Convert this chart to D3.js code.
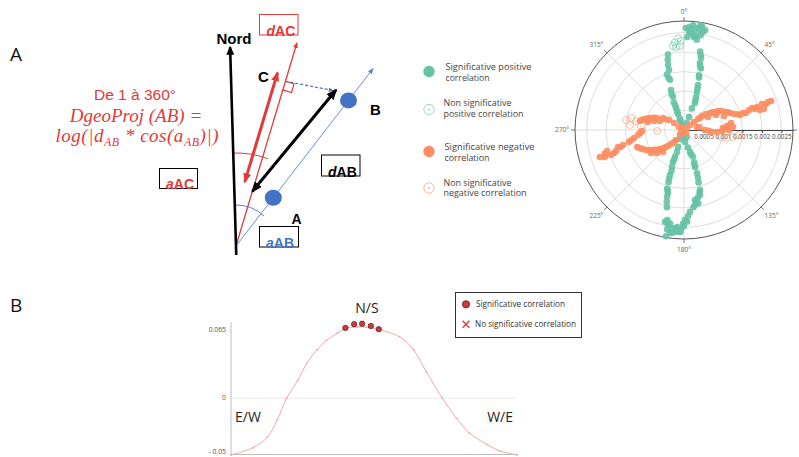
<!DOCTYPE html>
<html>
<head>
<meta charset="utf-8">
<script src="https://cdn.jsdelivr.net/npm/d3@7"></script>
<style>
  html, body { margin: 0; padding: 0; background: #fff; }
  svg { display: block; }
</style>
</head>
<body>
<svg id="fig" width="799" height="457"></svg>
<script>
// ---------------------------------------------------------------
// Polar panel: azimuth (degrees, clockwise from north) and strength
// ---------------------------------------------------------------
const posSigTheta = [1, 3, 6, 8, 10, 11, 10, 7, 4, 2, 8, 9, 5, 9, 12, 3, 6,
  11.6, 13.3, 13.4, 15.3, 15.3, 17.3, 18.9, 20, 22, 20, 21, 12.5, 14, 16, 18, 21,
  348, 346.2, 346, 342.8, 344.4, 342, 341.6, 339.7, 340, 339.4, 340, 341.6, 347, 343.5, 341, 340.5, 340,
  175, 167.5, 164.7, 161.6, 162.6, 163.4, 163.2, 163.7, 165, 166.2, 168.4, 170.5, 171, 175.8, 177.3, 179.4, 180.6,
  164, 163, 164.5, 166, 169, 173, 172,
  199.4, 197.6, 198.4, 199, 198, 197.3, 197, 196, 194.3, 194.2, 192.5, 191.7, 189.6, 189.6, 187.7, 187, 185, 183.4, 181.7, 180, 178, 189.6,
  198.5, 197, 196.5, 195, 193.5, 190.5, 186, 184, 182, 188.5,
  338, 160, 200, 20];
const posSigR = [0.00262, 0.00265, 0.00257, 0.00265, 0.00270, 0.00257, 0.00247, 0.00244, 0.00249, 0.00239, 0.00234, 0.00272, 0.00270, 0.00260, 0.00262, 0.00252, 0.00240,
  0.00206, 0.00190, 0.00177, 0.00164, 0.00146, 0.00121, 0.00103, 0.00090, 0.00075, 0.00059, 0.00036, 0.00198, 0.00170, 0.00140, 0.00112, 0.00082,
  0.00198, 0.00172, 0.00159, 0.00149, 0.00134, 0.00108, 0.00090, 0.00075, 0.00059, 0.00044, 0.00031, 0.00015, 0.00185, 0.00140, 0.00098, 0.00066, 0.00050,
  0.00031, 0.00046, 0.00059, 0.00072, 0.00087, 0.00100, 0.00116, 0.00128, 0.00159, 0.00172, 0.00177, 0.00188, 0.00182, 0.00211, 0.00221, 0.00231, 0.00241,
  0.00065, 0.00094, 0.00140, 0.00165, 0.00192, 0.00200, 0.00196,
  0.00046, 0.00059, 0.00072, 0.00087, 0.00100, 0.00121, 0.00131, 0.00157, 0.00167, 0.00177, 0.00203, 0.00241, 0.00247, 0.00259, 0.00267, 0.00254, 0.00257, 0.00262, 0.00254, 0.00247, 0.00236, 0.00277,
  0.00080, 0.00110, 0.00140, 0.00162, 0.00190, 0.00235, 0.00265, 0.00250, 0.00262, 0.00243,
  0.00025, 0.00020, 0.00025, 0.00020];

const posNsTheta = [354, 356.3, 358, 354.5, 357.3, 352.5];
const posNsR = [0.00226, 0.00236, 0.00229, 0.00213, 0.00216, 0.00218];

const negSigTheta = [50.2, 51.3, 51.8, 52.1, 54, 56.8, 59, 60.8, 63.4, 66.8, 69.7, 72.3, 61.6, 64.9, 70.7,
  75, 74.7, 72.1, 72.5, 71.6, 75.3, 71.6, 71.6, 75.3,
  53, 58, 62, 68, 73.5, 74, 73, 73.5, 72.5,
  77, 90, 94, 93.5, 87, 84.7, 81.5, 86.5, 90, 91.5, 80, 92, 89, 84,
  301, 305, 303.7, 299.7, 294, 290, 285.8, 281.6, 290.6, 282.5, 286.7, 300, 292, 288, 284,
  268.6, 263.8, 260.9, 257.7, 256.2, 255.6, 251.8, 254.7, 251.1, 252.2, 251.1, 266, 259, 255, 253, 253.5,
  218.7, 218.7, 222.9, 226.6, 231.6, 236.3, 240.9, 245.7, 250.1, 223.7, 229.6, 235.1,
  220, 225, 229, 233.5, 238.5, 243, 248,
  56, 236, 146, 326];
const negSigR = [0.00020, 0.00033, 0.00046, 0.00059, 0.00070, 0.00080, 0.00090, 0.00100, 0.00109, 0.00117, 0.00126, 0.00135, 0.00070, 0.00091, 0.00109,
  0.00149, 0.00165, 0.00184, 0.00197, 0.00211, 0.00212, 0.00227, 0.00236, 0.00202,
  0.00052, 0.00085, 0.00098, 0.00122, 0.00143, 0.00157, 0.00175, 0.00190, 0.00220,
  0.00034, 0.00054, 0.00072, 0.00085, 0.00100, 0.00111, 0.00122, 0.00126, 0.00116, 0.00098, 0.00040, 0.00064, 0.00108, 0.00118,
  0.00015, 0.00031, 0.00046, 0.00062, 0.00076, 0.00090, 0.00104, 0.00115, 0.00066, 0.00095, 0.00080, 0.00055, 0.00083, 0.00097, 0.00110,
  0.00108, 0.00119, 0.00130, 0.00145, 0.00161, 0.00175, 0.00189, 0.00205, 0.00215, 0.00227, 0.00198, 0.00113, 0.00138, 0.00168, 0.00182, 0.00212,
  0.00016, 0.00033, 0.00049, 0.00064, 0.00079, 0.00092, 0.00106, 0.00118, 0.00128, 0.00078, 0.00091, 0.00103,
  0.00041, 0.00057, 0.00071, 0.00086, 0.00099, 0.00112, 0.00124,
  0.00009, 0.00009, 0.00009, 0.00009];

const negNsTheta = [100.7, 100.5, 98.1, 95.2, 279.8, 282.8, 280.6, 275.3, 275.3, 267.9];
const negNsR = [0.00097, 0.00112, 0.00127, 0.00142, 0.00151, 0.00139, 0.00125, 0.00139, 0.00111, 0.00069];

const radialMax = 0.0028;
const radialTicks = [0, 0.0005, 0.001, 0.0015, 0.002, 0.0025];
const radialTickLabels = ["0", "0.0005", "0.001", "0.0015", "0.002", "0.0025"];
const angularTicks = [0, 45, 90, 135, 180, 225, 270, 315];
const angularTickLabels = ["0°", "45°", "90°", "135°", "180°", "225°", "270°", "315°"];

const polarLegendLabels = [
  ["Significative positive", "correlation"],
  ["Non significative", "positive correlation"],
  ["Significative negative", "correlation"],
  ["Non significative", "negative correlation"]
];

// ---------------------------------------------------------------
// Panel B: correlation as a function of orientation
// ---------------------------------------------------------------
const orientAngle = [-90, -76, -67, -61, -55, -48, -42, -36, -30, -23, -17, -10, -6, 4, 16, 25, 33, 43, 52, 60, 71, 79, 90];
const orientValue = [-0.054, -0.047, -0.037, -0.021, 0, 0.017, 0.034, 0.046, 0.055, 0.062, 0.067, 0.068, 0.068, 0.065, 0.0586, 0.046, 0.025, 0, -0.019, -0.033, -0.044, -0.050, -0.054];
const sigAngle = [-18, -12.5, -7.5, -2, 3];
const sigValue = [0.067, 0.0705, 0.071, 0.0688, 0.0658];
const yTicks = [-0.05, 0, 0.065];
const yTickLabels = ["- 0.05", "0", "0.065"];
const orientLabels = ["E/W", "N/S", "W/E"];
const legendBLabels = ["Significative correlation", "No significative correlation"];

// ---------------------------------------------------------------
const svg = d3.select("#fig");
const SANS = "'Open Sans', 'Liberation Sans', sans-serif";
const ARIAL = "'Liberation Sans', Arial, sans-serif";
const RED = "#e2393a";
const BLUE = "#4472c4";
const GREEN = "rgb(102,194,165)";
const ORANGE = "rgb(252,141,98)";

// panel letters
svg.append("text").attr("x", 10).attr("y", 61).text("A")
  .attr("font-family", SANS).attr("font-size", 19).attr("fill", "#111");
svg.append("text").attr("x", 10).attr("y", 312).text("B")
  .attr("font-family", SANS).attr("font-size", 19).attr("fill", "#111");

// ================= schematic of the projection =================
const defs = svg.append("defs");
function arrowMarker(id, color, len, wid) {
  defs.append("marker").attr("id", id)
    .attr("viewBox", `0 0 ${len} ${wid}`)
    .attr("refX", len * 0.85).attr("refY", wid / 2)
    .attr("markerUnits", "userSpaceOnUse")
    .attr("markerWidth", len).attr("markerHeight", wid)
    .attr("orient", "auto-start-reverse")
    .append("path").attr("d", `M0,0 L${len},${wid / 2} L0,${wid} Z`).attr("fill", color);
}
arrowMarker("hNord", "#000", 9, 8);
arrowMarker("hBlack", "#000", 11, 9);
arrowMarker("hRedBig", RED, 10, 8);
arrowMarker("hRed", RED, 6, 5);
arrowMarker("hBlue", "#5b84cf", 6, 5);
arrowMarker("hDash", "#4a6fb5", 5, 4);

const sketch = {
  origin: [236, 246],
  northDeg: -1.7, northLen: 199, northTail: 9,
  acDeg: 16.7, acLen: 212,
  abDeg: 37.7, abLen: 224,
  distA: 61, distB: 184,
  blackFrom: 57, blackTip: [336, 90],
  projFrom: 64, projTo: 178, projOffset: 10,
  foot: 172, square: 9
};
const rad = d => d * Math.PI / 180;
const unit = deg => [Math.sin(rad(deg)), -Math.cos(rad(deg))];
const along = (deg, len) => [sketch.origin[0] + unit(deg)[0] * len, sketch.origin[1] + unit(deg)[1] * len];
const gA = svg.append("g");
const seg = (p, q) => gA.append("line").attr("x1", p[0]).attr("y1", p[1]).attr("x2", q[0]).attr("y2", q[1]);

// angle arcs
function arcPath(r, d0, d1) {
  const p = d3.path();
  p.arc(sketch.origin[0], sketch.origin[1], r, rad(d0 - 90), rad(d1 - 90));
  return p.toString();
}
gA.append("path").attr("d", arcPath(93, sketch.northDeg, 20)).attr("fill", "none").attr("stroke", RED).attr("stroke-width", 1);
gA.append("path").attr("d", arcPath(41, sketch.northDeg, 43)).attr("fill", "none").attr("stroke", "#5b84cf").attr("stroke-width", 1);

// AB direction (blue)
seg(sketch.origin, along(sketch.abDeg, sketch.abLen)).attr("stroke", "#6b8fd4").attr("stroke-width", 1).attr("marker-end", "url(#hBlue)");
// AC direction (red)
seg(sketch.origin, along(sketch.acDeg, sketch.acLen)).attr("stroke", RED).attr("stroke-width", 1.3).attr("marker-end", "url(#hRed)");
// north
seg(along(sketch.northDeg, -sketch.northTail), along(sketch.northDeg, sketch.northLen))
  .attr("stroke", "#000").attr("stroke-width", 2.6).attr("marker-end", "url(#hNord)");

// right angle at the projection foot
const F = along(sketch.acDeg, sketch.foot);
const dn = unit(sketch.acDeg + 180), pr = unit(sketch.acDeg + 90), s = sketch.square;
gA.append("path").attr("d",
  `M${F[0]},${F[1]} L${F[0] + pr[0] * s},${F[1] + pr[1] * s} L${F[0] + pr[0] * s + dn[0] * s},${F[1] + pr[1] * s + dn[1] * s} L${F[0] + dn[0] * s},${F[1] + dn[1] * s}`)
  .attr("fill", "none").attr("stroke", RED).attr("stroke-width", 1.2);
// dashed projection line
seg(F, [sketch.blackTip[0] - 3, sketch.blackTip[1] + 0.5]).attr("stroke", "#4a6fb5").attr("stroke-width", 1.2)
  .attr("stroke-dasharray", "3,2").attr("marker-end", "url(#hDash)");

// projected distance (thick red)
const lft = unit(sketch.acDeg - 90);
const p0 = along(sketch.acDeg, sketch.projFrom), p1 = along(sketch.acDeg, sketch.projTo);
seg([p0[0] + lft[0] * sketch.projOffset, p0[1] + lft[1] * sketch.projOffset],
    [p1[0] + lft[0] * sketch.projOffset, p1[1] + lft[1] * sketch.projOffset])
  .attr("stroke", RED).attr("stroke-width", 3).attr("marker-start", "url(#hRedBig)").attr("marker-end", "url(#hRedBig)");
// distance AB (black)
seg(along(sketch.acDeg, sketch.blackFrom), sketch.blackTip)
  .attr("stroke", "#000").attr("stroke-width", 3).attr("marker-start", "url(#hBlack)").attr("marker-end", "url(#hBlack)");

// sites A and B
[sketch.distA, sketch.distB].forEach(d => {
  const p = along(sketch.abDeg, d);
  gA.append("ellipse").attr("cx", p[0]).attr("cy", p[1]).attr("rx", 8.5).attr("ry", 8).attr("fill", BLUE);
});

// labels
const bold = (x, y, t, size, color) => gA.append("text").attr("x", x).attr("y", y).text(t)
  .attr("font-family", ARIAL).attr("font-weight", "bold").attr("font-size", size).attr("fill", color || "#000");
bold(216.5, 44, "Nord", 15);
bold(258, 82, "C", 15);
bold(370, 115, "B", 15);
bold(291.5, 224, "A", 14);

function boxLabel(bx, by, bw, bh, boxColor, tx, ty, ital, rest, color) {
  gA.append("rect").attr("x", bx).attr("y", by).attr("width", bw).attr("height", bh)
    .attr("fill", "none").attr("stroke", boxColor).attr("stroke-width", 1);
  const t = gA.append("text").attr("x", tx).attr("y", ty).attr("font-family", ARIAL)
    .attr("font-weight", "bold").attr("font-size", 14).attr("fill", color);
  t.append("tspan").attr("font-style", "italic").text(ital);
  t.append("tspan").text(rest);
}
boxLabel(259.5, 14.5, 38.5, 20.5, RED, 266.5, 35.5, "d", "AC", RED);
boxLabel(321.5, 155, 38.5, 21, "#000", 328, 176.5, "d", "AB", "#000");
boxLabel(159.5, 168.5, 38, 20, "#000", 166, 188.5, "a", "AC", RED);
boxLabel(259.5, 226.5, 39, 20.5, "#000", 266, 247.5, "a", "AB", BLUE);

// formula
gA.append("text").attr("x", 135).attr("y", 100).attr("text-anchor", "middle")
  .attr("font-family", ARIAL).attr("font-size", 15.5).attr("fill", RED).text("De 1 à 360°");
const MATH = "'Liberation Serif', 'DejaVu Serif', serif";
gA.append("text").attr("x", 136).attr("y", 121.5).attr("text-anchor", "middle")
  .attr("font-family", MATH).attr("font-style", "italic").attr("font-size", 19).attr("fill", RED)
  .text("DgeoProj (AB) =");
const f = gA.append("text").attr("x", 137).attr("y", 141.5).attr("text-anchor", "middle")
  .attr("font-family", MATH).attr("font-style", "italic").attr("font-size", 19).attr("fill", RED)
  .attr("textLength", 163).attr("lengthAdjust", "spacing");
f.append("tspan").text("log(|d");
f.append("tspan").attr("font-size", 12).attr("dy", 4).text("AB");
f.append("tspan").attr("dy", -4).text(" * cos(a");
f.append("tspan").attr("font-size", 12).attr("dy", 4).text("AB");
f.append("tspan").attr("dy", -4).text(")|)");

// ================= polar legend =================
const gL = svg.append("g");
const legendStyles = [
  { color: GREEN, open: false }, { color: GREEN, open: true },
  { color: ORANGE, open: false }, { color: ORANGE, open: true }
];
const legendRows = [
  { cy: 71.5, x: 445.5, base: [69.5, 80.5], w: [86, 44] },
  { cy: 109.5, x: 443.5, base: [105.5, 116.5], w: [68, 80] },
  { cy: 151.5, x: 444.5, base: [149.5, 160.5], w: [90, 45] },
  { cy: 188, x: 443.5, base: [185.5, 196], w: [68, 83] }
];
legendRows.forEach((row, i) => {
  const st = legendStyles[i];
  if (st.open) {
    gL.append("circle").attr("cx", 429).attr("cy", row.cy).attr("r", 5.2)
      .attr("fill", "none").attr("stroke", st.color).attr("stroke-width", 0.8).attr("opacity", 0.8);
    gL.append("circle").attr("cx", 429).attr("cy", row.cy).attr("r", 0.8).attr("fill", st.color);
  } else {
    gL.append("circle").attr("cx", 429).attr("cy", row.cy).attr("r", 5.7).attr("fill", st.color);
  }
  polarLegendLabels[i].forEach((line, j) => {
    gL.append("text").attr("x", row.x).attr("y", row.base[j]).text(line)
      .attr("font-family", SANS).attr("font-size", 8.6).attr("fill", "#444")
      .attr("textLength", row.w[j]).attr("lengthAdjust", "spacingAndGlyphs");
  });
});

// ================= polar scatter =================
const cx = 684, cy = 130, outerR = 109;
const rScale = d3.scaleLinear().domain([0, radialMax]).range([0, outerR]);
const gP = svg.append("g").attr("transform", `translate(${cx},${cy})`);
const pos = (theta, r) => d3.pointRadial(rad(theta), rScale(r));

radialTicks.slice(1).forEach(t => {
  gP.append("circle").attr("r", rScale(t)).attr("fill", "none").attr("stroke", "#d4d4d4").attr("stroke-width", 0.8);
});
angularTicks.forEach(a => {
  const p = pos(a, radialMax);
  gP.append("line").attr("x1", 0).attr("y1", 0).attr("x2", p[0]).attr("y2", p[1])
    .attr("stroke", "#d4d4d4").attr("stroke-width", 0.8);
});
gP.append("circle").attr("r", outerR).attr("fill", "none").attr("stroke", "#555").attr("stroke-width", 1);

// angular ticks and labels (the 90° label runs past the right edge)
angularTicks.forEach((a, i) => {
  const p0 = d3.pointRadial(rad(a), outerR), p1 = d3.pointRadial(rad(a), outerR + 4);
  gP.append("line").attr("x1", p0[0]).attr("y1", p0[1]).attr("x2", p1[0]).attr("y2", p1[1])
    .attr("stroke", "#555").attr("stroke-width", 0.8);
  const q = d3.pointRadial(rad(a), outerR + 5);
  const sx = Math.sin(rad(a)), cyy = Math.cos(rad(a));
  const t = gP.append("text").text(angularTickLabels[i])
    .attr("font-family", SANS).attr("font-size", 6.5).attr("fill", "#666");
  let x = q[0], y = q[1];
  t.attr("text-anchor", sx > 0.1 ? "start" : sx < -0.1 ? "end" : "middle");
  if (cyy > 0.1) { y -= 2; }
  else if (cyy < -0.1) { y += 2; t.attr("dominant-baseline", "hanging"); }
  else { t.attr("dominant-baseline", "middle"); x += sx > 0 ? 1 : -1; }
  t.attr("x", x).attr("y", y);
});

// radial axis along 90°
const radialAxis = d3.axisBottom(rScale).tickValues(radialTicks)
  .tickFormat((d, i) => radialTickLabels[i]).tickSize(3).tickSizeOuter(0);
const gR = gP.append("g").call(radialAxis);
gR.select(".domain").attr("stroke", "#444").attr("stroke-width", 1);
gR.selectAll(".tick line").attr("stroke", "#444");
gR.selectAll(".tick text").attr("font-family", SANS).attr("font-size", 6.3).attr("fill", "#444").attr("dy", "0.5em");

function scatter(thetas, rs, color, open) {
  const data = thetas.map((t, i) => pos(t, rs[i]));
  const g = gP.append("g");
  if (open) {
    g.selectAll("circle.o").data(data).join("circle").attr("class", "o")
      .attr("cx", d => d[0]).attr("cy", d => d[1]).attr("r", 3.5)
      .attr("fill", "none").attr("stroke", color).attr("stroke-width", 0.7).attr("opacity", 0.85);
    g.selectAll("circle.c").data(data).join("circle").attr("class", "c")
      .attr("cx", d => d[0]).attr("cy", d => d[1]).attr("r", 0.6).attr("fill", color);
  } else {
    g.selectAll("circle").data(data).join("circle")
      .attr("cx", d => d[0]).attr("cy", d => d[1]).attr("r", 3.3)
      .attr("fill", color).attr("opacity", 0.9);
  }
}
scatter(posNsTheta, posNsR, GREEN, true);
scatter(posSigTheta, posSigR, GREEN, false);
scatter(negNsTheta, negNsR, ORANGE, true);
scatter(negSigTheta, negSigR, ORANGE, false);

// ================= panel B =================
const xB = d3.scaleLinear().domain([-90, 90]).range([231, 517]);
const yB = d3.scaleLinear().domain([-0.05, 0.065]).range([450.8, 330]);
const gB = svg.append("g");
const yTop = 0.0725, yBottom = -0.0535;

gB.append("line").attr("x1", xB(-90)).attr("x2", xB(90)).attr("y1", yB(0)).attr("y2", yB(0))
  .attr("stroke", "#ececec").attr("stroke-width", 1);
gB.append("line").attr("x1", xB(-90)).attr("x2", xB(90)).attr("y1", yB(yBottom)).attr("y2", yB(yBottom))
  .attr("stroke", "#bdbdbd").attr("stroke-width", 1);
gB.append("line").attr("x1", xB(-90)).attr("x2", xB(-90)).attr("y1", yB(yTop)).attr("y2", yB(yBottom))
  .attr("stroke", "#bdbdbd").attr("stroke-width", 1);

yTicks.forEach((t, i) => {
  gB.append("text").attr("x", 226).attr("y", yB(t) + (t < 0 ? 1.5 : 0)).attr("text-anchor", "end")
    .attr("dominant-baseline", "middle").attr("font-family", SANS).attr("font-size", 6.8)
    .attr("fill", "#555").text(yTickLabels[i]);
});

const curvePts = orientAngle.map((a, i) => [xB(a), yB(orientValue[i])]);
gB.append("path").attr("d", d3.line().curve(d3.curveCatmullRom.alpha(0.5))(curvePts))
  .attr("fill", "none").attr("stroke", "#f1a9a9").attr("stroke-width", 1);
// non significant estimates along the curve
curvePts.forEach(p => {
  gB.append("path").attr("d", `M${p[0] - 1},${p[1] - 1}L${p[0] + 1},${p[1] + 1}M${p[0] - 1},${p[1] + 1}L${p[0] + 1},${p[1] - 1}`)
    .attr("stroke", "#e59090").attr("stroke-width", 0.5);
});
// significant estimates
gB.selectAll("circle.sig").data(sigAngle).join("circle").attr("class", "sig")
  .attr("cx", (d) => xB(d)).attr("cy", (d, i) => yB(sigValue[i])).attr("r", 2.7)
  .attr("fill", "#d13b3b").attr("stroke", "#5e1515").attr("stroke-width", 0.7);

// orientation labels
const orientPos = [[235, 421.5, "start"], [367, 313, "middle"], [513, 421.5, "end"]];
orientLabels.forEach((t, i) => {
  gB.append("text").attr("x", orientPos[i][0]).attr("y", orientPos[i][1]).attr("text-anchor", orientPos[i][2])
    .attr("font-family", SANS).attr("font-size", 14).attr("fill", "#222").text(t);
});

// legend B
gB.append("rect").attr("x", 455.5).attr("y", 292.5).attr("width", 126).attr("height", 45)
  .attr("fill", "#fff").attr("stroke", "#333").attr("stroke-width", 1);
gB.append("circle").attr("cx", 466).attr("cy", 304.3).attr("r", 3.6)
  .attr("fill", "#d13b3b").attr("stroke", "#5e1515").attr("stroke-width", 0.8);
gB.append("path").attr("d", "M462.6,320.8L469.4,327.8M462.6,327.8L469.4,320.8")
  .attr("stroke", "#e0403f").attr("stroke-width", 1.4);
gB.append("text").attr("x", 476).attr("y", 307.3).text(legendBLabels[0])
  .attr("font-family", SANS).attr("font-size", 8.4).attr("fill", "#333")
  .attr("textLength", 89).attr("lengthAdjust", "spacingAndGlyphs");
gB.append("text").attr("x", 475).attr("y", 327).text(legendBLabels[1])
  .attr("font-family", SANS).attr("font-size", 8.4).attr("fill", "#333")
  .attr("textLength", 101).attr("lengthAdjust", "spacingAndGlyphs");
</script>
</body>
</html>
